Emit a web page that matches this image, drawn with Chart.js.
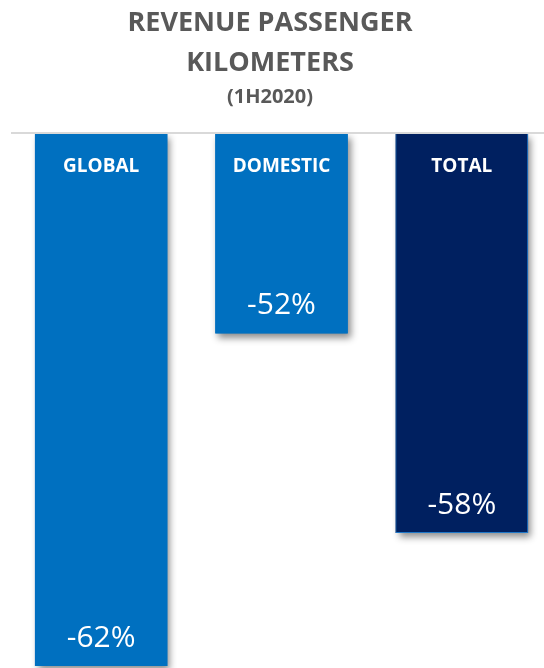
<!DOCTYPE html>
<html>
<head>
<meta charset="utf-8">
<script src="https://cdn.jsdelivr.net/npm/chart.js@4.4.1/dist/chart.umd.min.js"></script>
<style>
  html, body { margin: 0; padding: 0; background: #fff; overflow: hidden; }
  #wrap { width: 552px; height: 668px; }
</style>
</head>
<body>
<div id="wrap"><canvas id="rpkChart" width="552" height="668"></canvas></div>
<script>
// Revenue passenger kilometers, change vs prior year (1H2020)
const categories = ['GLOBAL', 'DOMESTIC', 'TOTAL'];
const changePct = [-62, -52, -58];
const valueLabels = ['-62%', '-52%', '-58%'];
const barColors = ['#0070C0', '#0070C0', '#002060'];
const edgeColors = ['#0070C0', '#0070C0', '#1F78C8'];
const titleLines = ['REVENUE PASSENGER', 'KILOMETERS'];
const subtitleText = '(1H2020)';

const FONT = '"Open Sans", "Noto Sans", sans-serif';

// title drawn by hand so it can sit centred on the page rather than the chart box
const titleBlock = {
  id: 'titleBlock',
  afterDraw(chart) {
    const c = chart.ctx;
    c.save();
    c.fillStyle = '#595959';
    c.textAlign = 'center';
    c.textBaseline = 'middle';
    c.font = 'bold 27px ' + FONT;
    c.fillText(titleLines[0], 270, 23);
    c.fillText(titleLines[1], 270, 63);
    c.font = 'bold 20px ' + FONT;
    c.fillText(subtitleText, 270, 97);
    c.restore();
  }
};

function barBox(bar, area) {
  const top = Math.max(Math.min(bar.base, bar.y), area.top);
  const bottom = Math.min(Math.max(bar.base, bar.y), area.bottom);
  return { left: bar.x - bar.width / 2, top, width: bar.width, height: bottom - top };
}

// drop shadow painted under each bar (bar borders clip their own shadow)
const barShadow = {
  id: 'barShadow',
  beforeDatasetsDraw(chart) {
    const c = chart.ctx;
    const area = chart.chartArea;
    c.save();
    c.beginPath();
    c.rect(area.left, area.top, area.right - area.left, area.bottom - area.top + 10);
    c.clip();
    c.shadowColor = 'rgba(0,0,0,0.45)';
    c.shadowBlur = 7;
    c.shadowOffsetX = 3;
    c.shadowOffsetY = 4;
    chart.getDatasetMeta(0).data.forEach((bar, i) => {
      const b = barBox(bar, area);
      c.fillStyle = barColors[i];
      c.fillRect(b.left, b.top, b.width, b.height);
    });
    c.restore();
  }
};

// grey line along the top plus labels inside each bar
const barText = {
  id: 'barText',
  afterDraw(chart) {
    const c = chart.ctx;
    const area = chart.chartArea;
    c.save();
    c.strokeStyle = '#d9d9d9';
    c.lineWidth = 2;
    c.beginPath();
    c.moveTo(area.left, area.top - 1);
    c.lineTo(area.right, area.top - 1);
    c.stroke();

    c.fillStyle = '#ffffff';
    c.textAlign = 'center';
    c.textBaseline = 'middle';
    chart.getDatasetMeta(0).data.forEach((bar, i) => {
      const b = barBox(bar, area);
      c.font = 'bold 19px ' + FONT;
      c.fillText(categories[i], bar.x, b.top + 33);
      c.font = '30px ' + FONT;
      c.fillText(valueLabels[i], bar.x, bar.y - 28);
    });
    c.restore();
  }
};

const ctx = document.getElementById('rpkChart').getContext('2d');

const rpkChart = new Chart(ctx, {
  type: 'bar',
  data: {
    labels: categories,
    datasets: [{
      data: changePct,
      backgroundColor: barColors,
      borderColor: edgeColors,
      borderWidth: 1,
      borderSkipped: false,
      categoryPercentage: 1,
      barPercentage: 0.735
    }]
  },
  options: {
    responsive: false,
    animation: false,
    layout: { padding: { top: 134, bottom: 2, left: 11, right: 0 } },
    plugins: {
      legend: { display: false },
      title: { display: false },
      tooltip: { enabled: false }
    },
    scales: {
      x: { display: false },
      y: { display: false, min: -62, max: -46 }
    }
  },
  plugins: [barShadow, barText, titleBlock]
});
</script>
</body>
</html>
